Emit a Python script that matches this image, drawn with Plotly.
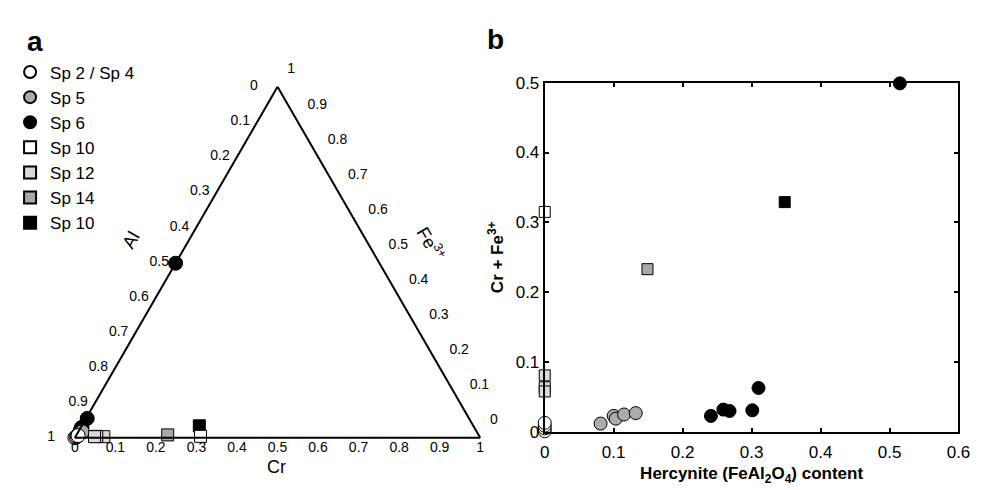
import plotly.graph_objects as go

W, H = 991, 490
FONT = "Liberation Sans, Arial, Helvetica, sans-serif"

# ---------------- Panel a: ternary data (Al, Cr, Fe3+ fractions) ----------------
names = ["Sp 2 / Sp 4", "Sp 5", "Sp 6", "Sp 10", "Sp 12", "Sp 14", "Sp 10"]

tern_al = [
    [1.000, 0.996, 0.992, 0.989],
    [0.988, 0.977, 0.981, 0.975, 0.973],
    [0.977, 0.968, 0.970, 0.969, 0.942, 0.503],
    [0.688],
    [0.927, 0.944, 0.950],
    [0.767],
    [0.676],
]
tern_cr = [
    [0.000, 0.002, 0.004, 0.005],
    [0.004, 0.008, 0.006, 0.009, 0.010],
    [0.003, 0.003, 0.002, 0.002, 0.003, 0.000],
    [0.308],
    [0.070, 0.052, 0.047],
    [0.225],
    [0.290],
]
tern_fe = [
    [0.000, 0.002, 0.004, 0.006],
    [0.008, 0.015, 0.013, 0.016, 0.017],
    [0.020, 0.029, 0.028, 0.029, 0.055, 0.497],
    [0.004],
    [0.003, 0.004, 0.003],
    [0.008],
    [0.034],
]

# ---------------- Panel b: hercynite content vs Cr + Fe3+ ----------------
herc_x = [
    [0.0, 0.0, 0.0, 0.0],
    [0.081, 0.100, 0.103, 0.115, 0.132],
    [0.241, 0.259, 0.268, 0.301, 0.310, 0.515],
    [0.0],
    [0.0, 0.0, 0.0],
    [0.149],
    [0.348],
]
crfe_y = [
    [0.001, 0.005, 0.009, 0.013],
    [0.012, 0.023, 0.019, 0.025, 0.027],
    [0.023, 0.032, 0.030, 0.031, 0.063, 0.499],
    [0.315],
    [0.081, 0.064, 0.058],
    [0.233],
    [0.329],
]

symbols = ["circle", "circle", "circle", "square", "square", "square", "square"]
fills = ["#ffffff", "#ababab", "#000000", "#ffffff", "#d9d9d9", "#a8a8a8", "#000000"]
# draw order (black circles behind grey ones), legend keeps original order
draw_order = [2, 1, 0, 6, 3, 4, 5]

tern_ticks = [0, 0.1, 0.2, 0.3, 0.4, 0.5, 0.6, 0.7, 0.8, 0.9, 1]
tern_ticktext = ["0", "0.1", "0.2", "0.3", "0.4", "0.5", "0.6", "0.7", "0.8", "0.9", "1"]

bx_ticks = [0, 0.1, 0.2, 0.3, 0.4, 0.5, 0.6]
bx_text = ["0", "0.1", "0.2", "0.3", "0.4", "0.5", "0.6"]
by_ticks = [0, 0.1, 0.2, 0.3, 0.4, 0.5]
by_text = ["0", "0.1", "0.2", "0.3", "0.4", "0.5"]

fig = go.Figure()

for i in draw_order:
    is_circle = symbols[i] == "circle"
    fig.add_trace(go.Scatterternary(
        a=tern_fe[i], b=tern_al[i], c=tern_cr[i],
        mode="markers", name=names[i], legendrank=i + 1,
        marker=dict(symbol=symbols[i], size=14 if is_circle else 12,
                    color=fills[i], line=dict(color="#000000", width=1)),
        cliponaxis=False, subplot="ternary",
    ))

lab_font = dict(family=FONT, size=14, color="#000000")


def edge_labels(a, b, c, text, pos, gap):
    fig.add_trace(go.Scatterternary(
        a=a, b=b, c=c, text=text, mode="markers+text",
        textposition=pos, textfont=lab_font,
        marker=dict(size=gap, opacity=0), showlegend=False, hoverinfo="skip",
        cliponaxis=False, subplot="ternary"))


# left edge: Al  (single-character labels sit a bit farther from the edge)
multi = [k for k, t in enumerate(tern_ticktext) if len(t) > 1]
single = [k for k, t in enumerate(tern_ticktext) if len(t) == 1]
for idx, gap in ((multi, 10), (single, 30)):
    edge_labels([1 - tern_ticks[k] for k in idx], [tern_ticks[k] for k in idx],
                [0] * len(idx), [tern_ticktext[k] for k in idx], "middle left", gap)
# bottom edge: Cr
edge_labels([0] * len(tern_ticks), [1 - v for v in tern_ticks], tern_ticks,
            tern_ticktext, "bottom center", 4)
# right edge: Fe3+
edge_labels(tern_ticks, [0] * len(tern_ticks), [1 - v for v in tern_ticks],
            tern_ticktext, "top right", 14)

for i in draw_order:
    is_circle = symbols[i] == "circle"
    fig.add_trace(go.Scatter(
        x=herc_x[i], y=crfe_y[i], mode="markers", showlegend=False,
        name=names[i],
        marker=dict(symbol=symbols[i], size=13 if is_circle else 11,
                    color=fills[i], line=dict(color="#000000", width=1)),
        cliponaxis=False, xaxis="x", yaxis="y",
    ))

tern_axis = dict(showline=True, linecolor="#000000", linewidth=2,
                 showgrid=False, showticklabels=False, ticks="", min=0, title="")

fig.update_layout(
    width=W, height=H,
    margin=dict(l=0, r=0, t=0, b=0),
    paper_bgcolor="#ffffff", plot_bgcolor="#ffffff",
    font=dict(family=FONT, color="#000000"),
    ternary=dict(
        domain=dict(x=[60 / W, 478.3 / W], y=[(H - 437.7) / H, (H - 72.5) / H]),
        sum=1, bgcolor="#ffffff",
        aaxis=tern_axis, baxis=tern_axis, caxis=tern_axis,
    ),
    xaxis=dict(
        domain=[541 / W, 962 / W], range=[0, 0.6], tickvals=bx_ticks, ticktext=bx_text,
        ticks="inside", ticklen=4, tickwidth=1.5, tickcolor="#000000",
        showline=True, linewidth=2, linecolor="#000000", mirror="ticks",
        showgrid=False, zeroline=False, ticklabelstandoff=4,
        tickfont=dict(family=FONT, size=17),
        title=dict(text="<b>Hercynite (FeAl<sub>2</sub>O<sub>4</sub>) content</b>",
                   font=dict(family=FONT, size=17), standoff=6),
    ),
    yaxis=dict(
        domain=[(H - 431.7) / H, (H - 68.3) / H], range=[0, 0.5],
        tickvals=by_ticks, ticktext=by_text,
        ticks="inside", ticklen=4, tickwidth=1.5, tickcolor="#000000",
        showline=True, linewidth=2, linecolor="#000000", mirror="ticks",
        showgrid=False, zeroline=False,
        tickfont=dict(family=FONT, size=17),
        title=dict(text="<b>Cr + Fe<sup>3+</sup></b>",
                   font=dict(family=FONT, size=17), standoff=8),
    ),
    legend=dict(
        x=-0.003, y=(H - 39) / H, xanchor="left", yanchor="top",
        font=dict(family=FONT, size=17), itemsizing="constant",
        bgcolor="rgba(0,0,0,0)", tracegroupgap=0,
    ),
    showlegend=True,
    annotations=[
        dict(text="<b>a</b>", x=12 / W, y=(H - 25) / H, xref="paper", yref="paper",
             xanchor="left", yanchor="middle", showarrow=False,
             font=dict(family=FONT, size=28)),
        dict(text="<b>b</b>", x=480 / W, y=(H - 23) / H, xref="paper", yref="paper",
             xanchor="left", yanchor="middle", showarrow=False,
             font=dict(family=FONT, size=28)),
        dict(text="Al", x=120 / W, y=(H - 232) / H, xref="paper", yref="paper",
             xanchor="center", yanchor="middle", showarrow=False, textangle=-60,
             font=dict(family=FONT, size=18)),
        dict(text="Fe<sup>3+</sup>", x=425 / W, y=(H - 236) / H, xref="paper", yref="paper",
             xanchor="center", yanchor="middle", showarrow=False, textangle=60,
             font=dict(family=FONT, size=18)),
        dict(text="Cr", x=268 / W, y=(H - 468) / H, xref="paper", yref="paper",
             xanchor="center", yanchor="middle", showarrow=False,
             font=dict(family=FONT, size=18)),
    ],
)

fig.write_html("out.html")
